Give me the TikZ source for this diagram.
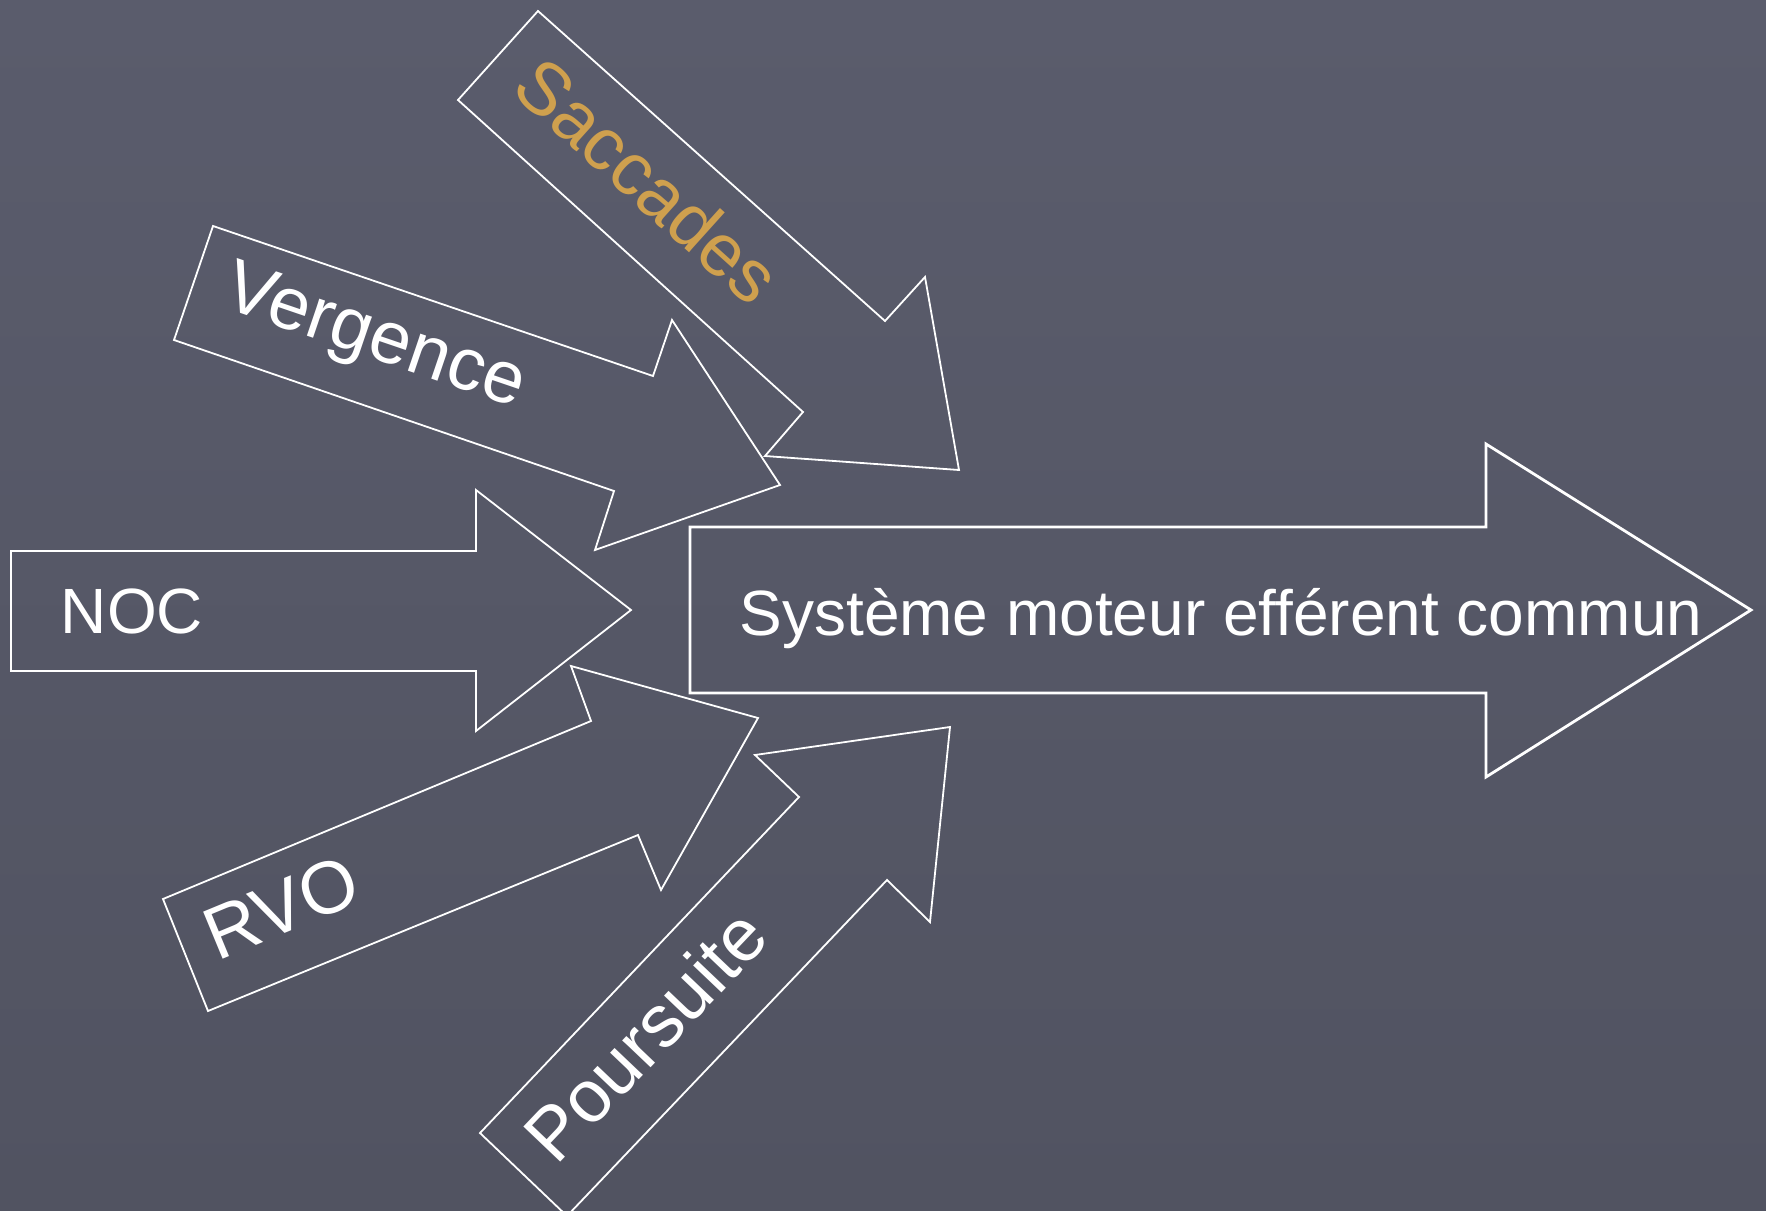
\documentclass[tikz,border=0pt]{standalone}
\usepackage{fontspec}
\setmainfont{Liberation Sans}
\usepackage{tikz}
\usepackage{xcolor}
\definecolor{slatetop}{RGB}{90,92,108}
\definecolor{slatebot}{RGB}{81,83,97}
\definecolor{saccgold}{RGB}{207,160,78}

\begin{document}
\begin{tikzpicture}[x=0.5pt,y=-0.5pt,line join=miter,
  flow/.style={draw=white,line width=0.9pt},
  bigflow/.style={draw=white,line width=1.4pt},
  lbl/.style={text=white,font=\fontsize{32}{38}\selectfont,inner sep=0pt,text height=23pt,text depth=0pt},
  tiltlbl/.style={lbl,font=\fontsize{37}{44}\selectfont,text height=26.6pt}]
  % five pathways feeding the common efferent motor system, coordinates in pixels of the slide
  \useasboundingbox (0,0) rectangle (1766,1210);
  \shade[top color=slatetop,bottom color=slatebot] (0,0) rectangle (1766,1210);
  \draw[bigflow] (690,527) -- (1486,527) -- (1486,444) -- (1751,610) -- (1486,777) -- (1486,693) -- (690,693) -- cycle;
  \draw[flow] (11,551) -- (476,551) -- (476,490) -- (631,610) -- (476,731) -- (476,671) -- (11,671) -- cycle;
  \draw[flow] (213,226) -- (653,376) -- (672,320) -- (780,485) -- (595,550) -- (614,491) -- (174,340) -- cycle;
  \draw[flow] (538,11) -- (885,321) -- (925,277) -- (959,470) -- (765,456) -- (803,412) -- (458,100) -- cycle;
  \draw[flow] (163,899) -- (591,721) -- (571,666) -- (758,718) -- (661,890) -- (638,835) -- (208,1011) -- cycle;
  \draw[flow] (480,1133) -- (799,797) -- (755,755) -- (950,727) -- (930,922) -- (887,880) -- (567,1216) -- cycle;
  \node[lbl] (systeme) at (1221,612) {Système moteur efférent commun};
  \node[lbl] (noc) at (132,610) {NOC};
  \node[tiltlbl,text=saccgold,rotate=-42] (saccades) at (648,180) {Saccades};
  \node[tiltlbl,rotate=-18.8] (vergence) at (377,332) {Vergence};
  \node[tiltlbl,rotate=22.5] (rvo) at (281,906) {RVO};
  \node[tiltlbl,rotate=46.4] (poursuite) at (645,1035) {Poursuite};
\end{tikzpicture}
\end{document}
